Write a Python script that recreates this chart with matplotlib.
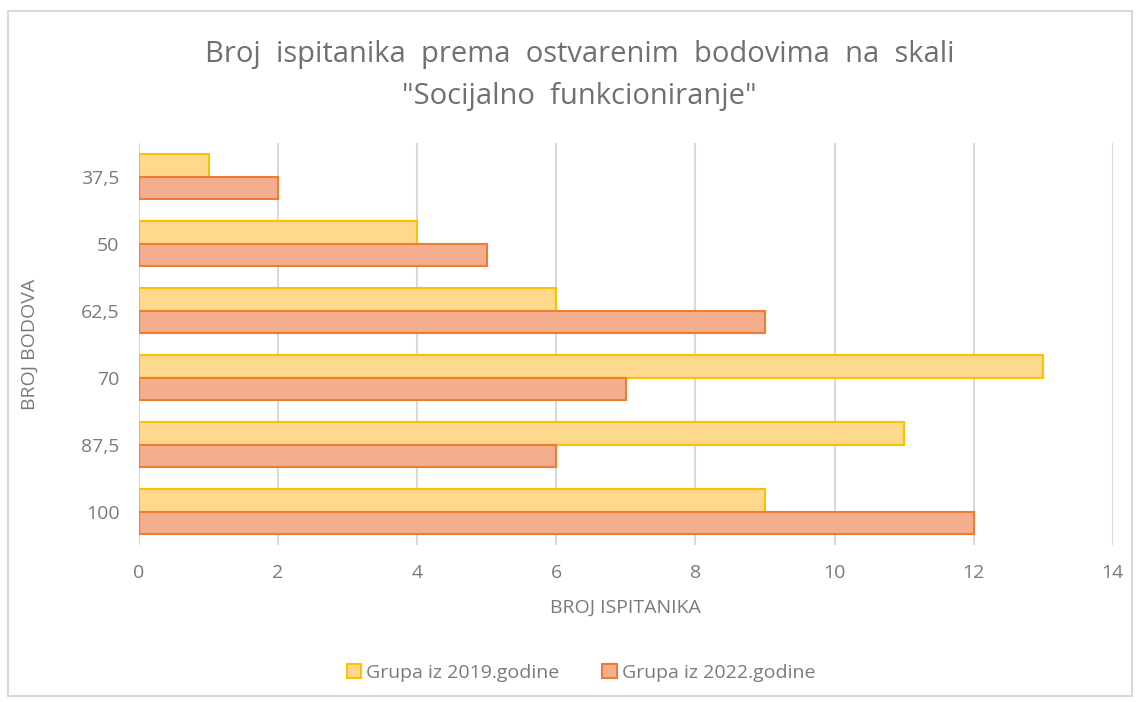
import numpy as np
import matplotlib.pyplot as plt
from matplotlib.patches import Rectangle

# data
categories = ["37,5", "50", "62,5", "70", "87,5", "100"]
grupa_2019 = [1, 4, 6, 13, 11, 9]
grupa_2022 = [2, 5, 9, 7, 6, 12]
series_labels = ["Grupa iz 2019.godine", "Grupa iz 2022.godine"]
title = 'Broj  ispitanika  prema  ostvarenim  bodovima  na  skali\n"Socijalno  funkcioniranje"'

plt.rcParams['font.family'] = ['Open Sans', 'DejaVu Sans']
text_col = '#7a7a7a'

fig = plt.figure(figsize=(11.39, 7.02), dpi=100)
ax = fig.add_axes([0.122, 0.2236, 0.855, 0.5727])

y = np.arange(len(categories))
h = 0.34
ax.barh(y - h / 2, grupa_2019, height=h, color='#FED88C', edgecolor='#FFC000',
        linewidth=1.5, label=series_labels[0], zorder=3)
ax.barh(y + h / 2, grupa_2022, height=h, color='#F5AE8D', edgecolor='#ED7D31',
        linewidth=1.5, label=series_labels[1], zorder=3)

ax.set_ylim(len(categories) - 0.5, -0.5)
ax.set_yticks(y)
ax.set_yticklabels(categories)
ax.set_xlim(0, 14)
ax.set_xticks(range(0, 15, 2))
ax.grid(axis='x', color='#D9D9D9', linewidth=1.5, zorder=0)
for s in ax.spines.values():
    s.set_visible(False)
ax.tick_params(axis='both', length=0, labelsize=14, colors=text_col, pad=14)
ax.tick_params(axis='y', pad=14)

ax.set_xlabel("BROJ ISPITANIKA", fontsize=14, color=text_col, labelpad=12)
ax.set_ylabel("BROJ BODOVA", fontsize=14, color=text_col, labelpad=30)

fig.text(0.509, 0.893, title, ha='center', va='center', fontsize=21,
         color='#707070', linespacing=1.6)

leg = fig.legend(loc='center', bbox_to_anchor=(0.51, 0.042), ncol=2, frameon=False,
                 fontsize=14, handlelength=0.75, handleheight=0.75, handletextpad=0.25,
                 columnspacing=2.2)
for t in leg.get_texts():
    t.set_color(text_col)

fig.patches.append(Rectangle((0.007, 0.009), 0.987, 0.975, transform=fig.transFigure,
                             fill=False, edgecolor='#D9D9D9', linewidth=1.5))

fig.savefig("out.png", dpi=100, facecolor='w')
